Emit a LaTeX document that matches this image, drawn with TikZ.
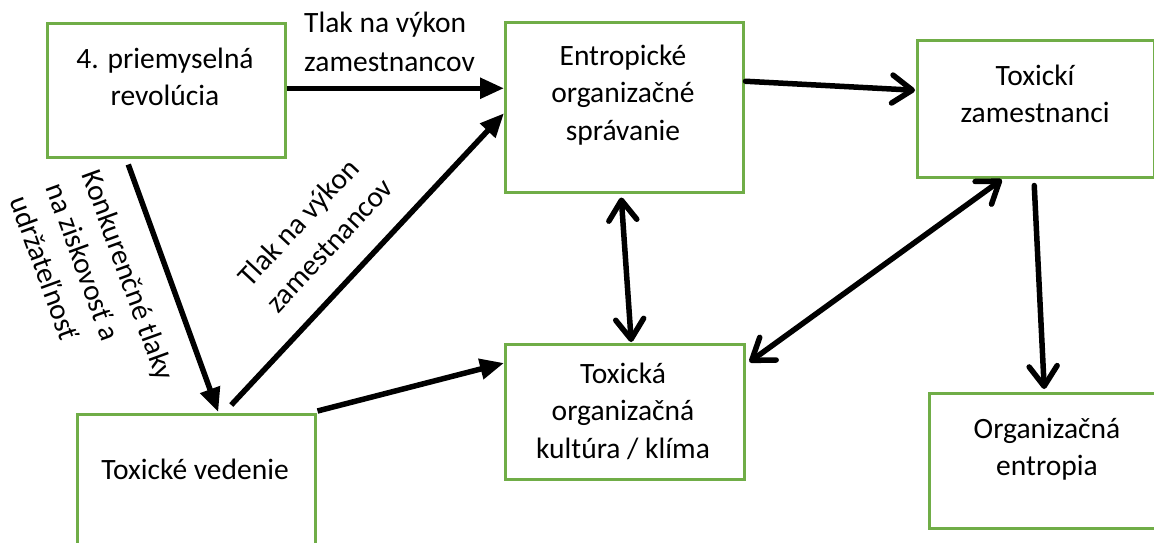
\documentclass[tikz,border=0pt]{standalone}
\usepackage{fontspec}
\setmainfont{Carlito}
\usetikzlibrary{arrows.meta}
\definecolor{boxgreen}{HTML}{70AD47}
\begin{document}
\begin{tikzpicture}[x=1pt,y=-1pt,
  box/.style={draw=boxgreen, line width=2.5pt, anchor=north west, inner sep=0pt},
  txt/.style={font=\fontsize{29.5}{37.5}\selectfont, align=center, inner sep=0pt, anchor=base},
  lab/.style={font=\fontsize{29.5}{38.5}\selectfont, align=left, inner sep=0pt},
  fa/.style={line width=5.5pt, -{Triangle[length=24pt,width=20pt]}},
  oa/.style={line width=5.5pt, line cap=round, -{Straight Barb[length=20pt,width=28pt,round]}},
  ob/.style={line width=5.5pt, line cap=round, {Straight Barb[length=20pt,width=28pt,round]}-{Straight Barb[length=20pt,width=28pt,round]}},
]
\useasboundingbox (0,0) rectangle (1154,542);
\clip (0,0) rectangle (1154,542);

% boxes
\node[box, minimum width=238pt, minimum height=134pt] (rev) at (46,22) {};
\node[box, minimum width=238pt, minimum height=170pt] (ent) at (504,21) {};
\node[box, minimum width=237pt, minimum height=137pt] (tox) at (916,39) {};
\node[box, minimum width=239pt, minimum height=135pt] (cult) at (504,343) {};
\node[box, minimum width=238pt, minimum height=136pt] (lead) at (76,413) {};
\node[box, minimum width=238pt, minimum height=135pt] (entr) at (928,392) {};

% box texts (base = baseline of last line)
\node[txt] (revt) at (165,105.5) {4. priemyselná\\revolúcia};
\node[txt] (entt) at (623,140) {Entropické\\organizačné\\správanie};
\node[txt] (toxt) at (1035,122.5) {Toxickí\\zamestnanci};
\node[txt] (cultt) at (623,458) {Toxická\\organizačná\\kultúra / klíma};
\node[txt] (leadt) at (195,479) {Toxické vedenie};
\node[txt] (entrt) at (1047,475.5) {Organizačná\\entropia};

% labels
\node[lab, anchor=base west] (lbl1) at (304,71) {Tlak na výkon\\zamestnancov};
\node[lab, rotate=47] (lbl2) at (315,232) {Tlak na výkon\\zamestnancov};
\node[lab, rotate=-70] (lbl3) at (93,288) {Konkurenčné tlaky\\na ziskovosť a\\udržateľnosť};

% connectors
\draw[fa] ([yshift=2pt]rev.east) -- ([yshift=2pt]rev.east -| ent.west);
\draw[fa] ([xshift=35pt,yshift=8pt]lead.north) -- ([yshift=-6pt]ent.west);
\draw[fa] ([xshift=1pt,yshift=2pt]lead.north east) -- ([yshift=-20pt]cult.north west);
\draw[fa] ([xshift=-38pt,yshift=-6pt]rev.south) -- ([xshift=22pt,yshift=1pt]lead.north);
\draw[oa] ([xshift=1pt,yshift=26pt]ent.east) -- ([xshift=-1pt,yshift=18.5pt]tox.west);
\draw[ob] ([xshift=-34pt,yshift=-1pt]tox.south) -- ([xshift=4pt,yshift=-19pt]cult.north east);
\draw[oa] ([xshift=-1.5pt,yshift=-7pt]tox.south) -- ([xshift=-4pt,yshift=3pt]entr.north);
\draw[ob] ([xshift=-3pt,yshift=-4pt]ent.south) -- ([xshift=6.5pt,yshift=1pt]cult.north);
\end{tikzpicture}
\end{document}
